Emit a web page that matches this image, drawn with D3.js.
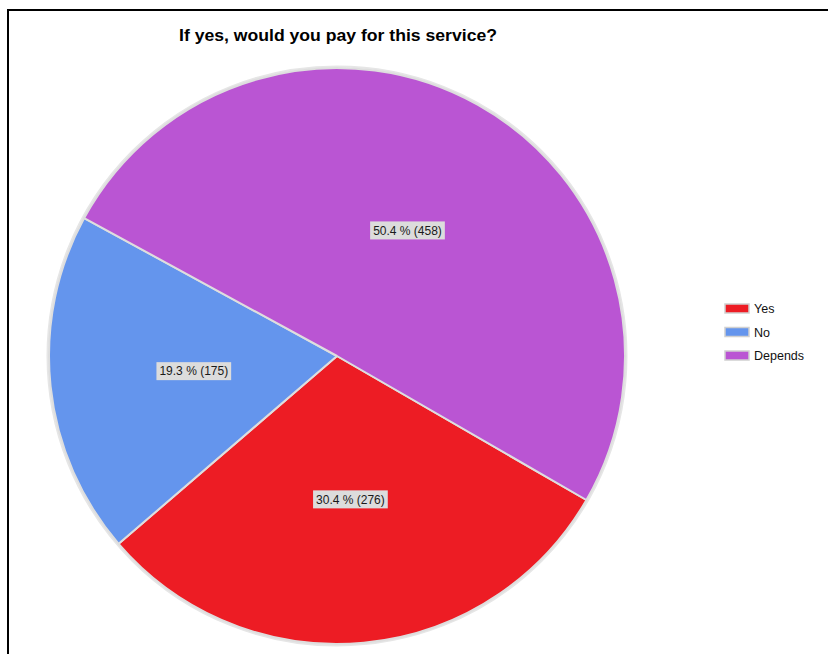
<!DOCTYPE html>
<html>
<head>
<meta charset="utf-8">
<script src="https://cdn.jsdelivr.net/npm/d3@7"></script>
<style>
  html, body { margin: 0; padding: 0; background: #fff; }
  svg { display: block; }
</style>
</head>
<body>
<svg id="chart" width="828" height="654"></svg>
<script>
// Survey answers
const categories = ["Yes", "No", "Depends"];
const counts = [276, 175, 458];
const percentLabels = ["30.4 %", "19.3 %", "50.4 %"];
const colors = ["#ED1C24", "#6495ED", "#BA55D3"];
const titleText = "If yes, would you pay for this service?";

const svg = d3.select("#chart");
const W = 828, H = 654;

// Frame
svg.append("rect")
  .attr("x", 8).attr("y", 10)
  .attr("width", W + 20).attr("height", H + 20)
  .attr("fill", "none").attr("stroke", "#000").attr("stroke-width", 2);

// Title
svg.append("text")
  .attr("x", 338).attr("y", 41)
  .attr("text-anchor", "middle")
  .attr("font-family", "Liberation Sans, Arial, sans-serif")
  .attr("font-weight", "bold")
  .attr("font-size", 17)
  .attr("textLength", 318)
  .attr("lengthAdjust", "spacingAndGlyphs")
  .attr("fill", "#000")
  .text(titleText);

// Pie
const cx = 337, cy = 356, radius = 288;
const startDeg = 120;
const data = categories.map((c, i) => ({ name: c, value: counts[i], pct: percentLabels[i], color: colors[i] }));

const pie = d3.pie()
  .value(d => d.value)
  .sort(null)
  .startAngle(startDeg * Math.PI / 180)
  .endAngle((startDeg + 360) * Math.PI / 180);

const arc = d3.arc().innerRadius(0).outerRadius(radius);
const labelArc = d3.arc().innerRadius(radius * 0.5).outerRadius(radius * 0.5);

const g = svg.append("g").attr("transform", `translate(${cx},${cy})`);

// soft rim shadow
g.append("circle")
  .attr("r", radius + 1.5)
  .attr("fill", "none")
  .attr("stroke", "#e6e6e6")
  .attr("stroke-width", 2);

const arcs = pie(data);

g.selectAll("path.slice")
  .data(arcs)
  .enter().append("path")
  .attr("class", "slice")
  .attr("d", arc)
  .attr("fill", d => d.data.color)
  .attr("stroke", "#dedede")
  .attr("stroke-width", 2)
  .attr("stroke-linejoin", "round");

// Value labels with boxes
const labels = g.selectAll("g.lbl")
  .data(arcs)
  .enter().append("g")
  .attr("class", "lbl")
  .attr("transform", d => `translate(${labelArc.centroid(d)})`);

labels.each(function(d) {
  const sel = d3.select(this);
  const rect = sel.append("rect");
  const t = sel.append("text")
    .attr("text-anchor", "middle")
    .attr("dy", "0.35em")
    .attr("font-family", "Liberation Sans, Arial, sans-serif")
    .attr("font-size", 12)
    .attr("fill", "#1a1a1a")
    .text(`${d.data.pct} (${d.data.value})`);
  const w = t.node().getComputedTextLength() + 6;
  rect.attr("x", -w / 2).attr("y", -9)
    .attr("width", w).attr("height", 18)
    .attr("fill", "#dcdcdc");
});

// Legend
const legend = svg.append("g").attr("transform", "translate(725,304)");
const items = legend.selectAll("g.item")
  .data(data)
  .enter().append("g")
  .attr("class", "item")
  .attr("transform", (d, i) => `translate(0,${i * 23.5})`);

items.append("rect")
  .attr("x", 0).attr("y", 0)
  .attr("width", 24).attr("height", 9)
  .attr("fill", d => d.color)
  .attr("stroke", "#d0d0d0")
  .attr("stroke-width", 1.5);

items.append("text")
  .attr("x", 29).attr("y", 5)
  .attr("dy", "0.35em")
  .attr("font-family", "Liberation Sans, Arial, sans-serif")
  .attr("font-size", 12.5)
  .attr("fill", "#111")
  .text(d => d.name);
</script>
</body>
</html>
